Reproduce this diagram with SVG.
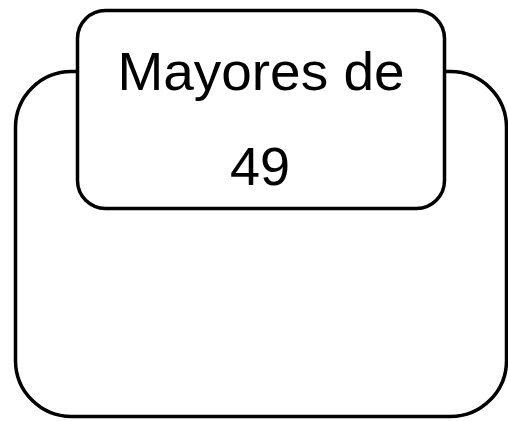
<svg xmlns="http://www.w3.org/2000/svg" width="508" height="421" viewBox="0 0 508 421">
<style>
.box{fill:#fff;stroke:#000;stroke-width:3.5}
.t{font-family:"Liberation Sans",Arial,sans-serif;font-size:54px;fill:#000;text-anchor:middle}
</style>
<rect width="508" height="421" fill="#fff"/>
<g id="outer">
<rect class="box" x="15.5" y="71.5" width="491" height="345" rx="56" ry="56"/>
</g>
<g id="title">
<rect class="box" x="77.5" y="10.5" width="367" height="198" rx="28" ry="28"/>
<text class="t" x="261" y="90" textLength="287" lengthAdjust="spacingAndGlyphs">Mayores de</text>
<text class="t" x="260" y="185">49</text>
</g>
<g id="connectors"/>
</svg>
